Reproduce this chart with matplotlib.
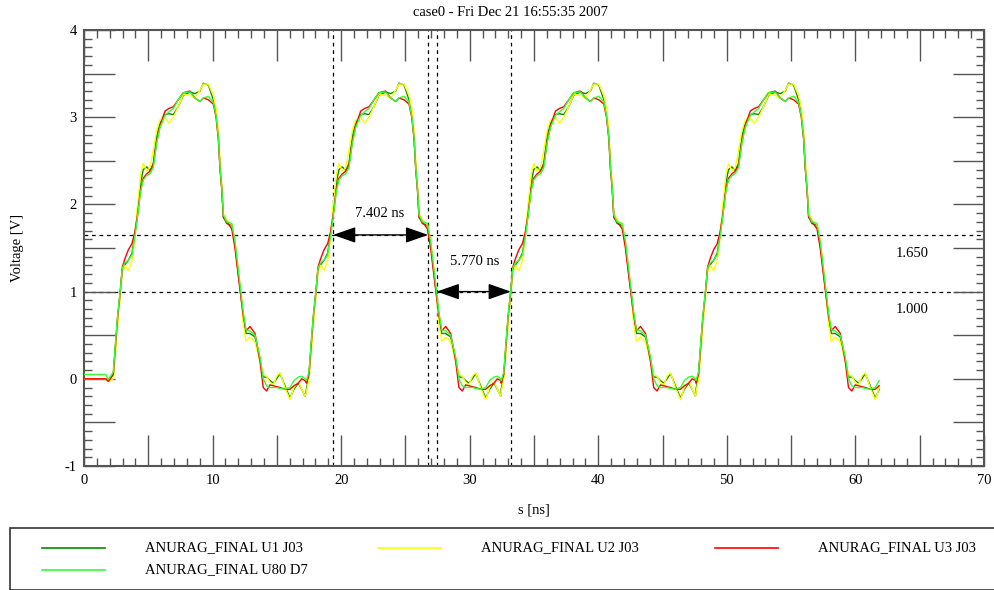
import matplotlib
matplotlib.use('Agg')
import matplotlib.pyplot as plt
from matplotlib.ticker import FixedLocator, FuncFormatter, MultipleLocator
from matplotlib.patches import Rectangle
from matplotlib.lines import Line2D
import numpy as np

plt.rcParams['font.family'] = ['Liberation Serif', 'DejaVu Serif']

# series names / colours
labels = ['ANURAG_FINAL U1 J03', 'ANURAG_FINAL U2 J03',
          'ANURAG_FINAL U3 J03', 'ANURAG_FINAL U80 D7']
colors = ['#008c00', '#ffff00', '#ff0000', '#33ff33']

# one period of each trace, time relative to rising 1.0 V crossing [ns]
tau = [-0.75, -0.55, -0.40, -0.22, 0.00, 0.15, 0.36, 0.62, 0.90, 1.12,
       1.30, 1.45, 1.58, 1.78, 2.04, 2.30, 2.56, 2.82, 3.08, 3.47,
       3.77, 4.12, 4.50, 4.89, 5.41, 5.80, 6.19, 6.45, 6.84, 7.23,
       7.44, 7.62, 7.75, 7.88, 8.01, 8.27, 8.66, 8.91, 9.17, 9.35,
       9.56, 9.77, 10.08, 10.47, 10.86, 11.11, 11.37, 11.63, 11.89, 12.15,
       12.41, 12.80, 13.19, 13.50, 13.84, 14.10, 14.36]

u1 = [-0.12, 0.05, 0.33, 0.67, 1.00, 1.25, 1.31, 1.36, 1.44, 1.65,
      1.85, 2.05, 2.25, 2.40, 2.43, 2.39, 2.47, 2.78, 2.93, 3.03,
      3.04, 3.03, 3.12, 3.25, 3.29, 3.27, 3.30, 3.39, 3.37, 3.20,
      3.04, 2.78, 2.43, 2.20, 1.86, 1.78, 1.76, 1.55, 1.21, 0.98,
      0.71, 0.52, 0.52, 0.48, 0.22, 0.02, 0.02, -0.02, -0.05, 0.00,
      0.06, -0.08, -0.22, -0.12, -0.05, -0.12, -0.20]

u2 = [-0.15, 0.00, 0.25, 0.60, 0.97, 1.22, 1.30, 1.24, 1.35, 1.62,
      1.95, 2.15, 2.35, 2.47, 2.38, 2.42, 2.62, 2.85, 2.97, 3.00,
      2.93, 3.00, 3.12, 3.26, 3.25, 3.22, 3.31, 3.38, 3.38, 3.25,
      3.10, 2.85, 2.50, 2.25, 1.90, 1.82, 1.77, 1.58, 1.25, 1.00,
      0.62, 0.43, 0.48, 0.42, 0.20, 0.05, 0.03, -0.04, -0.07, 0.03,
      0.07, -0.10, -0.24, -0.10, -0.03, -0.12, -0.20]

u3 = [-0.05, 0.05, 0.35, 0.70, 1.02, 1.28, 1.38, 1.48, 1.55, 1.68,
      1.85, 2.02, 2.18, 2.30, 2.35, 2.38, 2.45, 2.72, 2.90, 3.07,
      3.10, 3.12, 3.20, 3.28, 3.30, 3.22, 3.18, 3.22, 3.20, 3.15,
      3.00, 2.75, 2.40, 2.18, 1.85, 1.80, 1.72, 1.50, 1.18, 0.97,
      0.72, 0.55, 0.60, 0.52, 0.20, -0.10, -0.14, -0.07, -0.08, -0.09,
      -0.10, -0.12, -0.12, -0.08, -0.05, 0.00, -0.02]

u80 = [-0.02, 0.08, 0.38, 0.72, 1.03, 1.27, 1.33, 1.36, 1.42, 1.62,
       1.82, 2.00, 2.15, 2.28, 2.33, 2.35, 2.42, 2.70, 2.88, 3.02,
       3.06, 3.10, 3.20, 3.28, 3.29, 3.22, 3.18, 3.22, 3.24, 3.17,
       3.02, 2.77, 2.42, 2.20, 1.88, 1.80, 1.78, 1.58, 1.25, 1.02,
       0.76, 0.56, 0.55, 0.50, 0.25, 0.00, -0.08, -0.10, -0.10, -0.10,
       -0.11, -0.12, -0.10, -0.02, 0.02, 0.03, 0.00]

# rising 1.0 V crossings of each period [ns], end of record
rise_times = [2.83, 18.05, 33.20, 48.35]
t_end = 61.9

# flat part before the first edge
lead_t = [0.0, 1.70, 1.89]
lead_v = [[0.0, 0.0, -0.02], [0.0, 0.0, -0.03],
          [0.0, 0.0, -0.03], [0.05, 0.05, -0.01]]

# measurement cursors
v_lines = [19.37, 26.77, 27.43, 33.20]
h_levels = [1.65, 1.00]
meas = [(19.37, 26.77, 1.65, '7.402 ns', 23.0, 1.89),
        (27.43, 33.20, 1.00, '5.770 ns', 30.4, 1.34)]


def build(shape, lead):
    t = list(lead_t)
    v = list(lead)
    for k, tr in enumerate(rise_times):
        for dt, val in zip(tau, shape):
            if k == 0 and dt < -0.6:
                continue
            if tr + dt > t_end:
                break
            t.append(tr + dt)
            v.append(val)
    return t, v


W, H = 994, 590
fig = plt.figure(figsize=(W / 100, H / 100), dpi=100)
ax = fig.add_axes([84 / W, 1 - 466 / H, 900 / W, 436 / H])

series = [u1, u2, u3, u80]
for shape, lead, c, lab in zip(series, lead_v, colors, labels):
    t, v = build(shape, lead)
    ax.plot(t, v, color=c, lw=1.0, label=lab, zorder=3)

for x in v_lines:
    ax.axvline(x, color='black', lw=0.9, ls=(0, (3, 3)), zorder=1)
for y in h_levels:
    ax.axhline(y, color='black', lw=0.9, ls=(0, (3, 3)), zorder=1)

for x0, x1, y, txt, tx, ty in meas:
    ax.annotate('', xy=(x1, y), xytext=(x0, y),
                arrowprops=dict(arrowstyle='<|-|>,head_length=1.0,head_width=0.35',
                                color='black', lw=1.0, mutation_scale=14,
                                shrinkA=0, shrinkB=0), zorder=5)
    ax.text(tx, ty, txt, ha='center', va='center', fontsize=10.5)

ax.text(64.4, 1.44, '1.650', ha='center', va='center', fontsize=10.5)
ax.text(64.4, 0.79, '1.000', ha='center', va='center', fontsize=10.5)

ax.set_xlim(0, 70)
ax.set_ylim(-1, 4)

spine_c = '#555555'
for s in ax.spines.values():
    s.set_color(spine_c)
    s.set_linewidth(1.5)

ax.xaxis.set_major_locator(FixedLocator(np.arange(0, 70.1, 5)))
ax.xaxis.set_minor_locator(MultipleLocator(1))
ax.xaxis.set_major_formatter(FuncFormatter(lambda v, p: f'{int(round(v))}' if round(v) % 10 == 0 else ''))
ax.yaxis.set_major_locator(FixedLocator(np.arange(-1, 4.01, 0.5)))
ax.yaxis.set_minor_locator(MultipleLocator(0.1))
ax.yaxis.set_major_formatter(FuncFormatter(lambda v, p: f'{int(round(v))}' if abs(v - round(v)) < 1e-6 else ''))

ax.tick_params(which='both', direction='in', top=True, right=True,
               color=spine_c, width=1.0, labelsize=10.5)
ax.tick_params(axis='x', which='major', pad=6)
ax.tick_params(axis='y', which='major', pad=5)
ax.tick_params(which='minor', length=6)

for tk in ax.xaxis.get_major_ticks():
    big = abs(tk.get_loc() % 10) < 1e-6
    for ln in (tk.tick1line, tk.tick2line):
        ln.set_markersize(22 if big else 12)
for tk in ax.yaxis.get_major_ticks():
    big = abs(tk.get_loc() - round(tk.get_loc())) < 1e-6
    for ln in (tk.tick1line, tk.tick2line):
        ln.set_markersize(22 if big else 12)

fig.text(510 / W, 1 - 13 / H, 'case0 - Fri Dec 21 16:55:35 2007',
         ha='center', va='center', fontsize=10.5)
fig.text(18 / W, 1 - 248 / H, 'Voltage [V]', rotation=90,
         ha='center', va='center', fontsize=10.5)
fig.text(534 / W, 1 - 510 / H, 's [ns]', ha='center', va='center', fontsize=10.5)

# legend box drawn by hand to match the layout
fig.patches.append(Rectangle((10 / W, 0), 1.0, 1 - 528 / H, transform=fig.transFigure,
                             fill=False, edgecolor='#333333', lw=1.2))
slots = [(42, 548), (378, 548), (715, 548), (42, 570)]
for (sx, sy), c, lab in zip(slots, colors, labels):
    fig.lines.append(Line2D([sx / W, (sx + 63) / W], [1 - sy / H, 1 - sy / H],
                            transform=fig.transFigure, color=c, lw=1.2))
    fig.text((sx + 103) / W, 1 - sy / H, lab, ha='left', va='center', fontsize=10.5)

fig.savefig('out.png', dpi=100)
